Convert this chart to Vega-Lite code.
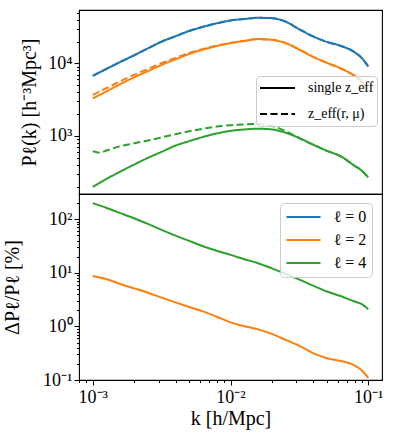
{
  "$schema": "https://vega.github.io/schema/vega-lite/v6.json",
  "padding": {"left": 2, "top": 3, "right": 5, "bottom": 5},
  "spacing": 0,
  "bounds": "flush",
  "datasets": {
    "top": [
      {"k":0.001,"P":6745,"ell":"ℓ = 0","zeff":"single z_eff"},
      {"k":0.001259,"P":8414,"ell":"ℓ = 0","zeff":"single z_eff"},
      {"k":0.001585,"P":10471,"ell":"ℓ = 0","zeff":"single z_eff"},
      {"k":0.001995,"P":12942,"ell":"ℓ = 0","zeff":"single z_eff"},
      {"k":0.002512,"P":16106,"ell":"ℓ = 0","zeff":"single z_eff"},
      {"k":0.003162,"P":19953,"ell":"ℓ = 0","zeff":"single z_eff"},
      {"k":0.003981,"P":23659,"ell":"ℓ = 0","zeff":"single z_eff"},
      {"k":0.005012,"P":27990,"ell":"ℓ = 0","zeff":"single z_eff"},
      {"k":0.00631,"P":31917,"ell":"ℓ = 0","zeff":"single z_eff"},
      {"k":0.007943,"P":35645,"ell":"ℓ = 0","zeff":"single z_eff"},
      {"k":0.01,"P":39084,"ell":"ℓ = 0","zeff":"single z_eff"},
      {"k":0.01259,"P":40926,"ell":"ℓ = 0","zeff":"single z_eff"},
      {"k":0.01585,"P":42462,"ell":"ℓ = 0","zeff":"single z_eff"},
      {"k":0.01995,"P":42073,"ell":"ℓ = 0","zeff":"single z_eff"},
      {"k":0.02512,"P":37584,"ell":"ℓ = 0","zeff":"single z_eff"},
      {"k":0.03162,"P":29512,"ell":"ℓ = 0","zeff":"single z_eff"},
      {"k":0.03981,"P":23550,"ell":"ℓ = 0","zeff":"single z_eff"},
      {"k":0.05012,"P":19770,"ell":"ℓ = 0","zeff":"single z_eff"},
      {"k":0.0631,"P":17458,"ell":"ℓ = 0","zeff":"single z_eff"},
      {"k":0.07943,"P":14289,"ell":"ℓ = 0","zeff":"single z_eff"},
      {"k":0.0891,"P":12023,"ell":"ℓ = 0","zeff":"single z_eff"},
      {"k":0.1,"P":9120,"ell":"ℓ = 0","zeff":"single z_eff"},

      {"k":0.001,"P":6745,"ell":"ℓ = 0","zeff":"z_eff(r, μ)"},
      {"k":0.001259,"P":8414,"ell":"ℓ = 0","zeff":"z_eff(r, μ)"},
      {"k":0.001585,"P":10471,"ell":"ℓ = 0","zeff":"z_eff(r, μ)"},
      {"k":0.001995,"P":12942,"ell":"ℓ = 0","zeff":"z_eff(r, μ)"},
      {"k":0.002512,"P":16106,"ell":"ℓ = 0","zeff":"z_eff(r, μ)"},
      {"k":0.003162,"P":19953,"ell":"ℓ = 0","zeff":"z_eff(r, μ)"},
      {"k":0.003981,"P":23659,"ell":"ℓ = 0","zeff":"z_eff(r, μ)"},
      {"k":0.005012,"P":27990,"ell":"ℓ = 0","zeff":"z_eff(r, μ)"},
      {"k":0.00631,"P":31917,"ell":"ℓ = 0","zeff":"z_eff(r, μ)"},
      {"k":0.007943,"P":35645,"ell":"ℓ = 0","zeff":"z_eff(r, μ)"},
      {"k":0.01,"P":39084,"ell":"ℓ = 0","zeff":"z_eff(r, μ)"},
      {"k":0.01259,"P":40926,"ell":"ℓ = 0","zeff":"z_eff(r, μ)"},
      {"k":0.01585,"P":42462,"ell":"ℓ = 0","zeff":"z_eff(r, μ)"},
      {"k":0.01995,"P":42073,"ell":"ℓ = 0","zeff":"z_eff(r, μ)"},
      {"k":0.02512,"P":37584,"ell":"ℓ = 0","zeff":"z_eff(r, μ)"},
      {"k":0.03162,"P":29512,"ell":"ℓ = 0","zeff":"z_eff(r, μ)"},
      {"k":0.03981,"P":23550,"ell":"ℓ = 0","zeff":"z_eff(r, μ)"},
      {"k":0.05012,"P":19770,"ell":"ℓ = 0","zeff":"z_eff(r, μ)"},
      {"k":0.0631,"P":17458,"ell":"ℓ = 0","zeff":"z_eff(r, μ)"},
      {"k":0.07943,"P":14289,"ell":"ℓ = 0","zeff":"z_eff(r, μ)"},
      {"k":0.0891,"P":12023,"ell":"ℓ = 0","zeff":"z_eff(r, μ)"},
      {"k":0.1,"P":9120,"ell":"ℓ = 0","zeff":"z_eff(r, μ)"},

      {"k":0.001,"P":3289,"ell":"ℓ = 2","zeff":"single z_eff"},
      {"k":0.001259,"P":4130,"ell":"ℓ = 2","zeff":"single z_eff"},
      {"k":0.001585,"P":5188,"ell":"ℓ = 2","zeff":"single z_eff"},
      {"k":0.001995,"P":6427,"ell":"ℓ = 2","zeff":"single z_eff"},
      {"k":0.002512,"P":7834,"ell":"ℓ = 2","zeff":"single z_eff"},
      {"k":0.003162,"P":9550,"ell":"ℓ = 2","zeff":"single z_eff"},
      {"k":0.003981,"P":11376,"ell":"ℓ = 2","zeff":"single z_eff"},
      {"k":0.005012,"P":13490,"ell":"ℓ = 2","zeff":"single z_eff"},
      {"k":0.00631,"P":15488,"ell":"ℓ = 2","zeff":"single z_eff"},
      {"k":0.007943,"P":17378,"ell":"ℓ = 2","zeff":"single z_eff"},
      {"k":0.01,"P":19055,"ell":"ℓ = 2","zeff":"single z_eff"},
      {"k":0.01259,"P":20417,"ell":"ℓ = 2","zeff":"single z_eff"},
      {"k":0.01585,"P":21627,"ell":"ℓ = 2","zeff":"single z_eff"},
      {"k":0.01995,"P":21135,"ell":"ℓ = 2","zeff":"single z_eff"},
      {"k":0.02512,"P":19055,"ell":"ℓ = 2","zeff":"single z_eff"},
      {"k":0.03162,"P":15488,"ell":"ℓ = 2","zeff":"single z_eff"},
      {"k":0.03981,"P":12303,"ell":"ℓ = 2","zeff":"single z_eff"},
      {"k":0.05012,"P":10186,"ell":"ℓ = 2","zeff":"single z_eff"},
      {"k":0.0631,"P":8511,"ell":"ℓ = 2","zeff":"single z_eff"},
      {"k":0.07943,"P":6761,"ell":"ℓ = 2","zeff":"single z_eff"},
      {"k":0.0891,"P":5702,"ell":"ℓ = 2","zeff":"single z_eff"},
      {"k":0.1,"P":4169,"ell":"ℓ = 2","zeff":"single z_eff"},

      {"k":0.001,"P":3690,"ell":"ℓ = 2","zeff":"z_eff(r, μ)"},
      {"k":0.001259,"P":4581,"ell":"ℓ = 2","zeff":"z_eff(r, μ)"},
      {"k":0.001585,"P":5689,"ell":"ℓ = 2","zeff":"z_eff(r, μ)"},
      {"k":0.001995,"P":6966,"ell":"ℓ = 2","zeff":"z_eff(r, μ)"},
      {"k":0.002512,"P":8395,"ell":"ℓ = 2","zeff":"z_eff(r, μ)"},
      {"k":0.003162,"P":10116,"ell":"ℓ = 2","zeff":"z_eff(r, μ)"},
      {"k":0.003981,"P":11912,"ell":"ℓ = 2","zeff":"z_eff(r, μ)"},
      {"k":0.005012,"P":13964,"ell":"ℓ = 2","zeff":"z_eff(r, μ)"},
      {"k":0.00631,"P":15849,"ell":"ℓ = 2","zeff":"z_eff(r, μ)"},
      {"k":0.007943,"P":17579,"ell":"ℓ = 2","zeff":"z_eff(r, μ)"},
      {"k":0.01,"P":19055,"ell":"ℓ = 2","zeff":"z_eff(r, μ)"},
      {"k":0.01259,"P":20417,"ell":"ℓ = 2","zeff":"z_eff(r, μ)"},
      {"k":0.01585,"P":21627,"ell":"ℓ = 2","zeff":"z_eff(r, μ)"},
      {"k":0.01995,"P":21135,"ell":"ℓ = 2","zeff":"z_eff(r, μ)"},
      {"k":0.02512,"P":19055,"ell":"ℓ = 2","zeff":"z_eff(r, μ)"},
      {"k":0.03162,"P":15488,"ell":"ℓ = 2","zeff":"z_eff(r, μ)"},
      {"k":0.03981,"P":12303,"ell":"ℓ = 2","zeff":"z_eff(r, μ)"},
      {"k":0.05012,"P":10186,"ell":"ℓ = 2","zeff":"z_eff(r, μ)"},
      {"k":0.0631,"P":8511,"ell":"ℓ = 2","zeff":"z_eff(r, μ)"},
      {"k":0.07943,"P":6761,"ell":"ℓ = 2","zeff":"z_eff(r, μ)"},
      {"k":0.0891,"P":5702,"ell":"ℓ = 2","zeff":"z_eff(r, μ)"},
      {"k":0.1,"P":4169,"ell":"ℓ = 2","zeff":"z_eff(r, μ)"},

      {"k":0.001,"P":198,"ell":"ℓ = 4","zeff":"single z_eff"},
      {"k":0.001259,"P":256,"ell":"ℓ = 4","zeff":"single z_eff"},
      {"k":0.001585,"P":323,"ell":"ℓ = 4","zeff":"single z_eff"},
      {"k":0.001995,"P":403,"ell":"ℓ = 4","zeff":"single z_eff"},
      {"k":0.002512,"P":499,"ell":"ℓ = 4","zeff":"single z_eff"},
      {"k":0.003162,"P":605,"ell":"ℓ = 4","zeff":"single z_eff"},
      {"k":0.003981,"P":736,"ell":"ℓ = 4","zeff":"single z_eff"},
      {"k":0.005012,"P":849,"ell":"ℓ = 4","zeff":"single z_eff"},
      {"k":0.00631,"P":968,"ell":"ℓ = 4","zeff":"single z_eff"},
      {"k":0.007943,"P":1084,"ell":"ℓ = 4","zeff":"single z_eff"},
      {"k":0.01,"P":1175,"ell":"ℓ = 4","zeff":"single z_eff"},
      {"k":0.01259,"P":1230,"ell":"ℓ = 4","zeff":"single z_eff"},
      {"k":0.01585,"P":1259,"ell":"ℓ = 4","zeff":"single z_eff"},
      {"k":0.01995,"P":1230,"ell":"ℓ = 4","zeff":"single z_eff"},
      {"k":0.02512,"P":1109,"ell":"ℓ = 4","zeff":"single z_eff"},
      {"k":0.03162,"P":933,"ell":"ℓ = 4","zeff":"single z_eff"},
      {"k":0.03981,"P":759,"ell":"ℓ = 4","zeff":"single z_eff"},
      {"k":0.05012,"P":624,"ell":"ℓ = 4","zeff":"single z_eff"},
      {"k":0.0631,"P":525,"ell":"ℓ = 4","zeff":"single z_eff"},
      {"k":0.07943,"P":389,"ell":"ℓ = 4","zeff":"single z_eff"},
      {"k":0.0891,"P":336,"ell":"ℓ = 4","zeff":"single z_eff"},
      {"k":0.1,"P":269,"ell":"ℓ = 4","zeff":"single z_eff"},

      {"k":0.001,"P":615,"ell":"ℓ = 4","zeff":"z_eff(r, μ)"},
      {"k":0.001122,"P":589,"ell":"ℓ = 4","zeff":"z_eff(r, μ)"},
      {"k":0.001259,"P":631,"ell":"ℓ = 4","zeff":"z_eff(r, μ)"},
      {"k":0.001585,"P":723,"ell":"ℓ = 4","zeff":"z_eff(r, μ)"},
      {"k":0.001995,"P":791,"ell":"ℓ = 4","zeff":"z_eff(r, μ)"},
      {"k":0.002512,"P":865,"ell":"ℓ = 4","zeff":"z_eff(r, μ)"},
      {"k":0.003162,"P":955,"ell":"ℓ = 4","zeff":"z_eff(r, μ)"},
      {"k":0.003981,"P":1059,"ell":"ℓ = 4","zeff":"z_eff(r, μ)"},
      {"k":0.005012,"P":1161,"ell":"ℓ = 4","zeff":"z_eff(r, μ)"},
      {"k":0.00631,"P":1259,"ell":"ℓ = 4","zeff":"z_eff(r, μ)"},
      {"k":0.007943,"P":1349,"ell":"ℓ = 4","zeff":"z_eff(r, μ)"},
      {"k":0.01,"P":1406,"ell":"ℓ = 4","zeff":"z_eff(r, μ)"},
      {"k":0.01259,"P":1445,"ell":"ℓ = 4","zeff":"z_eff(r, μ)"},
      {"k":0.01585,"P":1462,"ell":"ℓ = 4","zeff":"z_eff(r, μ)"},
      {"k":0.01995,"P":1380,"ell":"ℓ = 4","zeff":"z_eff(r, μ)"},
      {"k":0.02512,"P":1161,"ell":"ℓ = 4","zeff":"z_eff(r, μ)"},
      {"k":0.03162,"P":933,"ell":"ℓ = 4","zeff":"z_eff(r, μ)"},
      {"k":0.03981,"P":759,"ell":"ℓ = 4","zeff":"z_eff(r, μ)"},
      {"k":0.05012,"P":624,"ell":"ℓ = 4","zeff":"z_eff(r, μ)"},
      {"k":0.0631,"P":525,"ell":"ℓ = 4","zeff":"z_eff(r, μ)"},
      {"k":0.07943,"P":389,"ell":"ℓ = 4","zeff":"z_eff(r, μ)"},
      {"k":0.0891,"P":336,"ell":"ℓ = 4","zeff":"z_eff(r, μ)"},
      {"k":0.1,"P":269,"ell":"ℓ = 4","zeff":"z_eff(r, μ)"}
    ],
    "bottom": [
      {"k":0.001,"dP":8.75,"ell":"ℓ = 2"},
      {"k":0.001259,"dP":7.59,"ell":"ℓ = 2"},
      {"k":0.001585,"dP":6.17,"ell":"ℓ = 2"},
      {"k":0.001995,"dP":5.13,"ell":"ℓ = 2"},
      {"k":0.002512,"dP":4.25,"ell":"ℓ = 2"},
      {"k":0.003162,"dP":3.44,"ell":"ℓ = 2"},
      {"k":0.003981,"dP":2.80,"ell":"ℓ = 2"},
      {"k":0.005012,"dP":2.30,"ell":"ℓ = 2"},
      {"k":0.00631,"dP":1.905,"ell":"ℓ = 2"},
      {"k":0.007943,"dP":1.514,"ell":"ℓ = 2"},
      {"k":0.01,"dP":1.189,"ell":"ℓ = 2"},
      {"k":0.01259,"dP":1.009,"ell":"ℓ = 2"},
      {"k":0.01585,"dP":0.881,"ell":"ℓ = 2"},
      {"k":0.01995,"dP":0.724,"ell":"ℓ = 2"},
      {"k":0.02512,"dP":0.562,"ell":"ℓ = 2"},
      {"k":0.03162,"dP":0.432,"ell":"ℓ = 2"},
      {"k":0.03981,"dP":0.318,"ell":"ℓ = 2"},
      {"k":0.05012,"dP":0.255,"ell":"ℓ = 2"},
      {"k":0.0631,"dP":0.226,"ell":"ℓ = 2"},
      {"k":0.07943,"dP":0.188,"ell":"ℓ = 2"},
      {"k":0.0891,"dP":0.154,"ell":"ℓ = 2"},
      {"k":0.1,"dP":0.110,"ell":"ℓ = 2"},

      {"k":0.001,"dP":199,"ell":"ℓ = 4"},
      {"k":0.001259,"dP":162,"ell":"ℓ = 4"},
      {"k":0.001585,"dP":130,"ell":"ℓ = 4"},
      {"k":0.001995,"dP":104,"ell":"ℓ = 4"},
      {"k":0.002512,"dP":81.5,"ell":"ℓ = 4"},
      {"k":0.003162,"dP":63.1,"ell":"ℓ = 4"},
      {"k":0.003981,"dP":49.3,"ell":"ℓ = 4"},
      {"k":0.005012,"dP":39.3,"ell":"ℓ = 4"},
      {"k":0.00631,"dP":31.3,"ell":"ℓ = 4"},
      {"k":0.007943,"dP":25.7,"ell":"ℓ = 4"},
      {"k":0.01,"dP":21.6,"ell":"ℓ = 4"},
      {"k":0.01259,"dP":17.9,"ell":"ℓ = 4"},
      {"k":0.01585,"dP":15.1,"ell":"ℓ = 4"},
      {"k":0.01995,"dP":12.1,"ell":"ℓ = 4"},
      {"k":0.02512,"dP":9.55,"ell":"ℓ = 4"},
      {"k":0.03162,"dP":7.46,"ell":"ℓ = 4"},
      {"k":0.03981,"dP":5.75,"ell":"ℓ = 4"},
      {"k":0.05012,"dP":4.47,"ell":"ℓ = 4"},
      {"k":0.0631,"dP":3.68,"ell":"ℓ = 4"},
      {"k":0.07943,"dP":2.91,"ell":"ℓ = 4"},
      {"k":0.0891,"dP":2.62,"ell":"ℓ = 4"},
      {"k":0.1,"dP":2.09,"ell":"ℓ = 4"}
    ]
  },
  "vconcat": [
    {
      "width": 303,
      "height": 184,
      "data": {"name": "top"},
      "mark": {"type": "line", "strokeWidth": 2, "interpolate": "monotone", "clip": true},
      "encoding": {
        "x": {"field": "k", "type": "quantitative",
              "scale": {"type": "log", "domain": [0.000794, 0.1259], "nice": false},
              "axis": null},
        "y": {"field": "P", "type": "quantitative",
              "scale": {"type": "log", "domain": [158.5, 54450], "nice": false},
              "axis": {
                "title": "Pℓ(k) [h⁻³Mpc³]",
                "values": [200,300,400,500,600,700,800,900,1000,2000,3000,4000,5000,6000,7000,8000,9000,10000,20000,30000,40000,50000],
                "labelExpr": "datum.value == 1000 ? '10³' : datum.value == 10000 ? '10⁴' : ''",
                "tickSize": {"condition": {"test": "datum.value == 1000 || datum.value == 10000", "value": 5}, "value": 2.5}
              }},
        "color": {"field": "ell", "type": "nominal",
                  "scale": {"domain": ["ℓ = 0","ℓ = 2","ℓ = 4"], "range": ["#1f77b4","#ff7f0e","#2ca02c"]},
                  "legend": null},
        "strokeDash": {"field": "zeff", "type": "nominal",
                  "scale": {"domain": ["single z_eff","z_eff(r, μ)"], "range": [[1,0],[7,3.5]]},
                  "legend": {"title": null, "orient": "none", "legendX": 177, "legendY": 66,
                             "symbolStrokeColor": "black", "symbolType": "stroke", "symbolSize": 1225,
                             "symbolStrokeWidth": 2, "labelOffset": 12, "rowPadding": 8, "clipHeight": 18,
                             "padding": 3, "labelFontSize": 14}}
      }
    },
    {
      "width": 303,
      "height": 186,
      "data": {"name": "bottom"},
      "mark": {"type": "line", "strokeWidth": 2, "interpolate": "monotone", "clip": true},
      "encoding": {
        "x": {"field": "k", "type": "quantitative",
              "scale": {"type": "log", "domain": [0.000794, 0.1259], "nice": false},
              "axis": {
                "title": "k [h/Mpc]",
                "values": [0.0008,0.0009,0.001,0.002,0.003,0.004,0.005,0.006,0.007,0.008,0.009,0.01,0.02,0.03,0.04,0.05,0.06,0.07,0.08,0.09,0.1],
                "labelExpr": "datum.value == 0.001 ? '10⁻³' : datum.value == 0.01 ? '10⁻²' : datum.value == 0.1 ? '10⁻¹' : ''",
                "tickSize": {"condition": {"test": "datum.value == 0.001 || datum.value == 0.01 || datum.value == 0.1", "value": 5}, "value": 2.5}
              }},
        "y": {"field": "dP", "type": "quantitative",
              "scale": {"type": "log", "domain": [0.1, 295], "nice": false},
              "axis": {
                "title": "ΔPℓ/Pℓ [%]",
                "titlePadding": 20,
                "values": [0.1,0.2,0.3,0.4,0.5,0.6,0.7,0.8,0.9,1,2,3,4,5,6,7,8,9,10,20,30,40,50,60,70,80,90,100,200],
                "labelExpr": "datum.value == 0.1 ? '10⁻¹' : datum.value == 1 ? '10⁰' : datum.value == 10 ? '10¹' : datum.value == 100 ? '10²' : ''",
                "tickSize": {"condition": {"test": "datum.value == 0.1 || datum.value == 1 || datum.value == 10 || datum.value == 100", "value": 5}, "value": 2.5}
              }},
        "color": {"field": "ell", "type": "nominal",
                  "scale": {"domain": ["ℓ = 0","ℓ = 2","ℓ = 4"], "range": ["#1f77b4","#ff7f0e","#2ca02c"]},
                  "legend": {"title": null, "orient": "none", "legendX": 201, "legendY": 9,
                             "symbolType": "stroke", "symbolSize": 1156, "symbolStrokeWidth": 2,
                             "labelOffset": 12, "rowPadding": 6, "clipHeight": 17, "padding": 5.5, "labelFontSize": 16}}
      }
    }
  ],
  "resolve": {"scale": {"color": "independent", "strokeDash": "independent"}, "legend": {"color": "independent", "strokeDash": "independent"}},
  "config": {
    "view": {"stroke": "black", "strokeWidth": 1.1},
    "axis": {
      "domain": false, "grid": false, "ticks": true, "tickColor": "black", "tickWidth": 1,
      "labelFont": "Liberation Serif", "labelFontSize": 18, "labelColor": "black", "labelPadding": 2,
      "labelOverlap": false, "labelFlush": false,
      "titleFont": "Liberation Serif", "titleFontSize": 20, "titleFontWeight": "normal", "titleColor": "black"
    },
    "axisY": {"titlePadding": 8},
    "axisX": {"labelPadding": 3, "titlePadding": 2},
    "legend": {
      "labelFont": "Liberation Serif", "labelFontSize": 16, "labelColor": "black",
      "fillColor": "rgba(255,255,255,0.8)", "strokeColor": "#cccccc", "cornerRadius": 4,
      "symbolBaseStrokeColor": "black"
    }
  }
}
